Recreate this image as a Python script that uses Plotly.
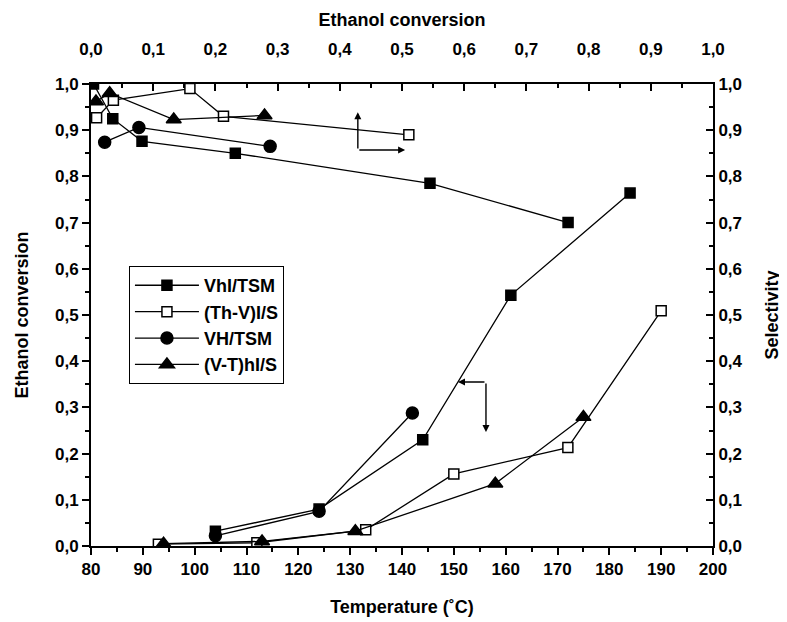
import plotly.graph_objects as go

# Conversion vs temperature (bottom/left axes)
names = ["VhI/TSM", "(Th-V)I/S", "VH/TSM", "(V-T)hI/S"]
symbols = ["square", "square", "circle", "triangle-up"]
fills = ["black", "white", "black", "black"]
sizes = [10, 10, 12, 13]

temp_vhi = [104, 124, 144, 161, 184]
conv_vhi = [0.032, 0.080, 0.230, 0.543, 0.764]
temp_thv = [93, 112, 133, 150, 172, 190]
conv_thv = [0.004, 0.007, 0.035, 0.156, 0.213, 0.509]
temp_vh = [104, 124, 142]
conv_vh = [0.022, 0.075, 0.288]
temp_vt = [94, 113, 131, 158, 175]
conv_vt = [0.005, 0.010, 0.032, 0.135, 0.279]

# Selectivity vs conversion (top/right axes)
sc_vhi = [0.004, 0.035, 0.082, 0.232, 0.545, 0.767]
sel_vhi = [1.000, 0.925, 0.876, 0.850, 0.785, 0.700]
sc_thv = [0.009, 0.036, 0.159, 0.213, 0.511]
sel_thv = [0.927, 0.965, 0.990, 0.930, 0.890]
sc_vh = [0.022, 0.077, 0.288]
sel_vh = [0.874, 0.906, 0.865]
sc_vt = [0.008, 0.030, 0.133, 0.279]
sel_vt = [0.962, 0.980, 0.923, 0.932]

conv_sets = [(temp_vhi, conv_vhi), (temp_thv, conv_thv), (temp_vh, conv_vh), (temp_vt, conv_vt)]
sel_sets = [(sc_vhi, sel_vhi), (sc_thv, sel_thv), (sc_vh, sel_vh), (sc_vt, sel_vt)]

FONT = "Liberation Sans, Arial"

fig = go.Figure()
for i, (xs, ys) in enumerate(conv_sets):
    fig.add_trace(go.Scatter(
        x=xs, y=ys, mode="lines+markers", name=names[i],
        line=dict(color="black", width=1.3),
        marker=dict(symbol=symbols[i], size=sizes[i], color=fills[i],
                    line=dict(color="black", width=1.5)),
        xaxis="x", yaxis="y", showlegend=True,
    ))
for i, (xs, ys) in enumerate(sel_sets):
    fig.add_trace(go.Scatter(
        x=xs, y=ys, mode="lines+markers", name=names[i],
        line=dict(color="black", width=1.3),
        marker=dict(symbol=symbols[i], size=sizes[i], color=fills[i],
                    line=dict(color="black", width=1.5)),
        xaxis="x2", yaxis="y2", showlegend=False,
    ))

tickfont = dict(family=FONT, size=17, color="black", weight="bold")
titlefont = dict(family=FONT, size=18, color="black", weight="bold")

common = dict(showline=True, linecolor="black", linewidth=2, showgrid=False, zeroline=False,
              ticklen=7, tickwidth=1.5, tickcolor="black", tickfont=tickfont, mirror=False,
              automargin=False)

fig.update_layout(
    width=787, height=622,
    margin=dict(l=83, r=82, t=76, b=84),
    paper_bgcolor="white", plot_bgcolor="white",
    separators=",.",
    xaxis=dict(range=[80, 200], tickvals=list(range(80, 201, 10)), ticks="outside",
               minor=dict(dtick=5, ticks="outside", ticklen=4, tickcolor="black", tickwidth=1.5),
               title=dict(text="Temperature (˚C)", font=titlefont, standoff=22), **common),
    yaxis=dict(range=[0, 1], dtick=0.1, tickformat=".1f", ticks="outside",
               minor=dict(dtick=0.05, ticks="outside", ticklen=4, tickcolor="black", tickwidth=1.5),
               title=dict(text="Ethanol conversion", font=titlefont, standoff=22), **common),
    xaxis2=dict(range=[0, 1], dtick=0.1, tickformat=".1f", ticks="inside", overlaying="x", side="top",
                ticklabelstandoff=20,
                minor=dict(dtick=0.05, ticks="inside", ticklen=4, tickcolor="black", tickwidth=1.5),
                title=dict(text="Ethanol conversion", font=titlefont, standoff=9), **common),
    yaxis2=dict(range=[0, 1], dtick=0.1, tickformat=".1f", ticks="inside", overlaying="y", side="right",
                minor=dict(dtick=0.05, ticks="inside", ticklen=4, tickcolor="black", tickwidth=1.5),
                title=dict(text="Selectivity", font=titlefont, standoff=24), **common),
    legend=dict(x=0.061, y=0.606, xanchor="left", yanchor="top", bordercolor="black", borderwidth=1,
                bgcolor="white", font=dict(family=FONT, size=18, color="black", weight="bold"),
                tracegroupgap=0, itemwidth=64),
)

# Arrows indicating which axes apply
arrow_style = dict(showarrow=True, arrowhead=2, arrowsize=1, arrowwidth=1.4, arrowcolor="black", text="")
# lower arrow (conversion vs temperature)
fig.add_annotation(x=150.8, y=0.355, ax=156.2, ay=0.355, xref="x", yref="y", axref="x", ayref="y", **arrow_style)
fig.add_annotation(x=156.2, y=0.247, ax=156.2, ay=0.355, xref="x", yref="y", axref="x", ayref="y", **arrow_style)
# upper arrow (selectivity vs conversion)
fig.add_annotation(x=0.429, y=0.939, ax=0.429, ay=0.857, xref="x2", yref="y2", axref="x2", ayref="y2", **arrow_style)
fig.add_annotation(x=0.505, y=0.857, ax=0.429, ay=0.857, xref="x2", yref="y2", axref="x2", ayref="y2", **arrow_style)

fig.write_html("out.html")
